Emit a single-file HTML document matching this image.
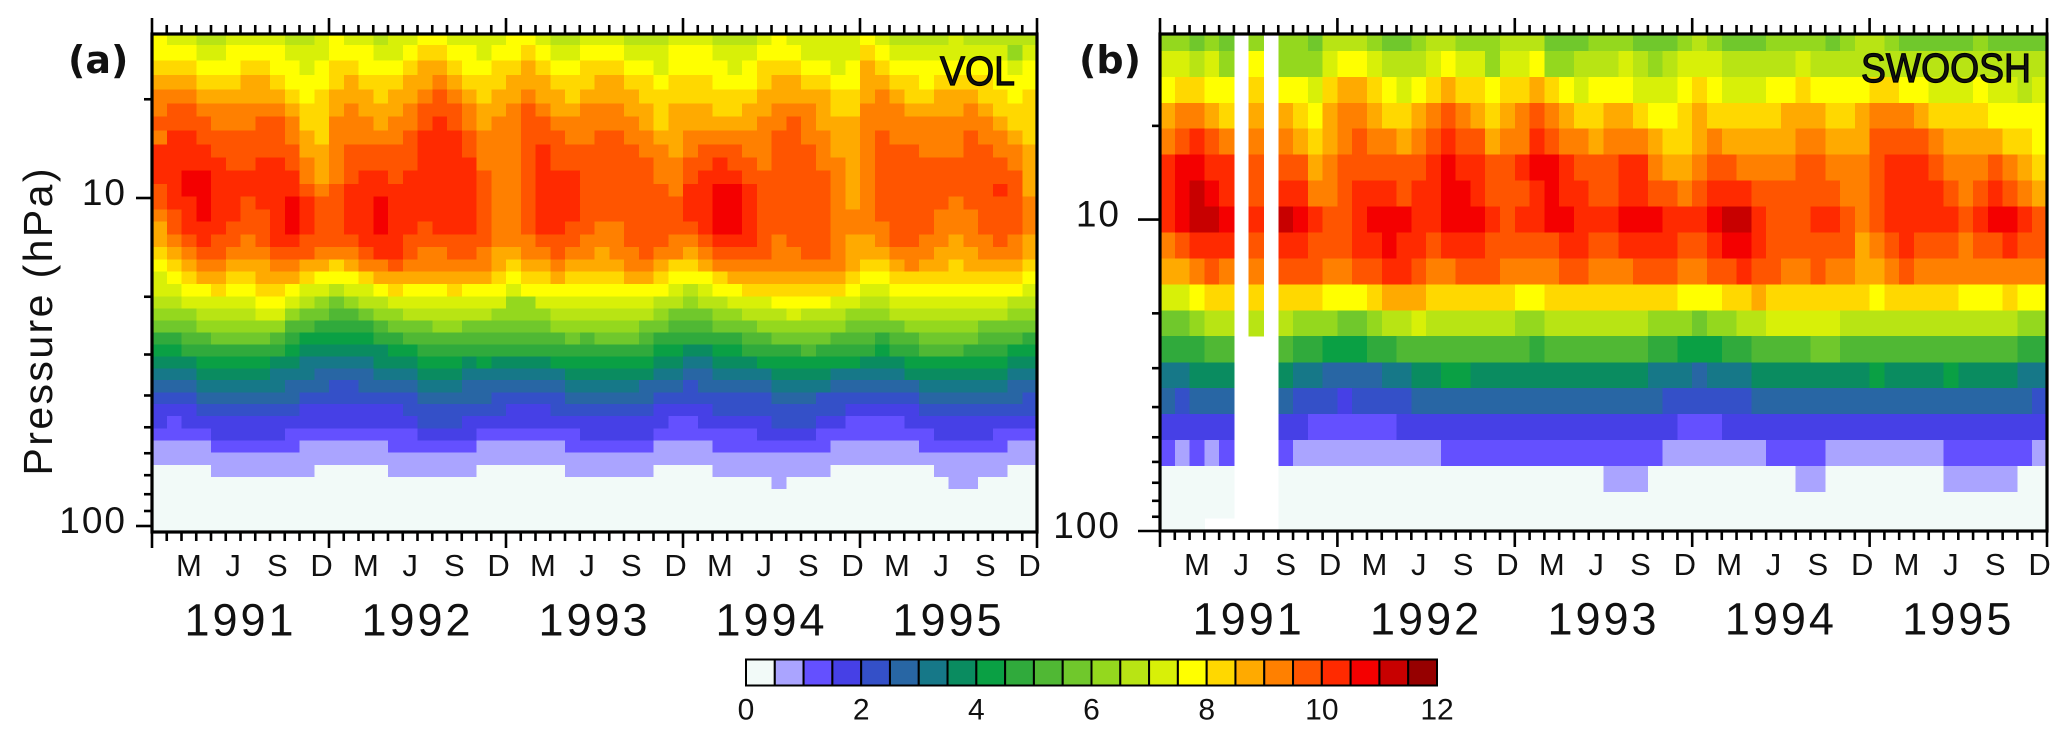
<!DOCTYPE html>
<html lang="en">
<head>
<meta charset="utf-8">
<title>Water vapour: VOL and SWOOSH</title>
<style>
html,body{margin:0;padding:0;background:#fff;}
svg{display:block;}
text{font-family:"Liberation Sans","DejaVu Sans",sans-serif;fill:#111;}
</style>
</head>
<body>
<svg id="chart" xmlns="http://www.w3.org/2000/svg" width="2067" height="738" viewBox="0 0 2067 738">
  <rect x="0" y="0" width="2067" height="738" fill="#fff"/>
  <g id="panelA"></g>
  <g id="panelB"></g>
  <g id="colorbar"></g>
  <text transform="translate(52,322) rotate(-90)" text-anchor="middle" font-size="41" textLength="307" lengthAdjust="spacing">Pressure (hPa)</text>
  <text x="68" y="73" font-size="38" font-weight="bold" style="font-family:'DejaVu Sans',sans-serif">(a)</text>
  <text x="1079" y="73" font-size="38" font-weight="bold" style="font-family:'DejaVu Sans',sans-serif">(b)</text>
  <text x="940" y="85" font-size="41" textLength="75" lengthAdjust="spacingAndGlyphs" stroke="#000" stroke-width="1.2">VOL</text>
  <text x="1861" y="82" font-size="41" textLength="170" lengthAdjust="spacingAndGlyphs" stroke="#000" stroke-width="1.2">SWOOSH</text>
</svg>
<script>
const yearLabels = ["1991","1992","1993","1994","1995"];
const monthLabels = ["M","J","S","D"];
const monthLabelIndex = [2,5,8,11];
const minorPressureTicks = [5,20,30,40,50,60,70,80,90];
const majorPressureTicks = [10,100];
const colorbarTickValues = [0,2,4,6,8,10,12];
const colorbarBinSize = 0.5;
const binColors = ["#f2faf8","#aaa4ff","#6450ff","#4640e6","#3450c8","#2866a4","#167888","#0a8c60","#0aa044","#30aa3c","#50b834","#70c82c","#94d81e","#b8e414","#d8f008","#ffff00","#ffd800","#ffaa00","#ff8000","#ff5500","#ff2a00","#f40000","#c80000","#960000"];

const volEdgesHpa = [3.162,3.416,3.814,4.217,4.663,5.143,5.651,6.234,6.858,7.536,8.257,9.064,9.91,10.83,11.81,12.90,14.11,15.38,16.78,18.29,19.94,21.69,23.67,25.75,27.93,30.46,33.05,35.88,39.12,42.46,46.19,50.36,54.81,59.77,65.16,70.88,77.14,83.92,91.26,99.3,104.3];

const volValues = [
[7.5,7,7,6.5,6.5,7,7,7,7,6.5,6.5,7, 7.5,7,7,6.5,7,7,7.5,7.5,7,7,7,7, 7.5,7.5,7,6.5,6.5,7,7,7,6.5,6.5,6.5,7, 7,7,6.5,6.5,6.5,7,7.5,7,7,7,7,7, 7.5,7,6.5,6.5,6.5,6.5,7,6.5,6.5,6.5,6.5,6.5],
[7.5,7.5,7.5,7,7,7.5,7.5,7.5,7.5,7,7,7, 7.5,7.5,7.5,7,7,7.5,8,8,7.5,7.5,7,7.5, 7.5,8,7.5,7,7,7.5,7.5,7.5,7,7,7,7.5, 7.5,7.5,7,7,7,7.5,7.5,7.5,7,7,7,7, 8,7.5,7,7,7,7,7,7,7,7,6,7],
[8,8,8,7.5,7.5,7.5,8,8,7.5,7.5,7,7.5, 8,8,7.5,7.5,7.5,8,8.5,8.5,8,7.5,7.5,8, 8,8.5,8,7.5,7.5,8,8,8,7.5,7.5,7,7.5, 7.5,7.5,7.5,7,7.5,8,8,8,7.5,7.5,7,7.5, 8.5,8,7.5,7.5,7.5,7.5,7.5,7.5,7.5,7.5,7,7.5],
[8.5,8.5,8.5,8,8,8,8.5,8.5,8,7.5,7.5,7.5, 8,8.5,8,8,8,8.5,8.5,9,8.5,8,8,8, 8.5,8.5,8.5,8,8,8,8.5,8.5,8,8,7.5,8, 8,8,7.5,7.5,7.5,8,8.5,8.5,8,8,7.5,7.5, 8.5,8.5,8,8,7.5,8,8,8,8,7.5,7.5,7.5],
[9,9,9,8.5,8.5,8.5,8.5,8.5,8.5,8,7.5,8, 8.5,8.5,8.5,8,8.5,8.5,9,9.5,9,8.5,8,8.5, 8.5,9,8.5,8.5,8,8.5,8.5,8.5,8.5,8,8,8, 8,8,8,8,8,8.5,8.5,8.5,8.5,8.5,8,8, 8.5,9,8.5,8,8,8.5,8.5,8.5,8,8,7.5,8],
[9,9.5,9.5,9,9,9,9,9,9,8.5,8,8, 8.5,9,8.5,8.5,8.5,9,9.5,9.5,9.5,9,8.5,8.5, 9,9.5,9,8.5,8.5,9,9,9,8.5,8.5,8,8.5, 8.5,8.5,8,8,8.5,8.5,9,9,9,8.5,8,8, 9,9,9,8.5,8.5,8.5,8.5,9,8.5,8,8,8],
[9.5,9.5,9.5,9.5,9,9,9,9.5,9.5,9,8,8, 9,9,9,8.5,9,9,9.5,10,9.5,9,8.5,9, 9,9.5,9.5,9,9,9,9,9,9,8.5,8,8.5, 8.5,8.5,8.5,8.5,8.5,9,9,9.5,9,8.5,8.5,8.5, 9,9,9,9,9,9,9,9,9,8.5,8,8],
[9,10,10,9.5,9.5,9.5,9.5,9.5,9.5,9,8.5,8, 9,9,9,9,9,9.5,10,10,10,9.5,9,9, 9,9.5,9.5,9.5,9,9,9.5,9.5,9,9,8.5,8.5, 9,9,9,9,9,9,9.5,9.5,9,9,8.5,8.5, 9,9.5,9,9,9,9,9,9.5,9,9,8.5,8],
[10,10,10,10,9.5,9.5,9.5,9.5,9.5,9.5,8.5,8.5, 9,9.5,9.5,9.5,9.5,9.5,10,10,10,9.5,9,9, 9,9.5,10,9.5,9.5,9.5,9.5,9.5,9.5,9,9,8.5, 9,9.5,9.5,9.5,9,9,9.5,9.5,9.5,9,8.5,8.5, 9,9.5,9.5,9.5,9,9,9,9.5,9.5,9,9,8.5],
[10,10,10,10,10,9.5,9.5,10,10,9.5,9,8.5, 9,9.5,9.5,9.5,9.5,9.5,10,10,10,10,9,9, 9,9.5,10,9.5,9.5,9.5,9.5,9.5,9.5,9.5,9,9, 9.5,9.5,10,9.5,9.5,9,9.5,9.5,9.5,9,9,8.5, 9,9.5,9.5,9.5,9.5,9.5,9.5,9.5,9.5,9.5,9,8.5],
[10,10,10.5,10.5,10,10,10,10,10,10,9,8.5, 9,9.5,10,10,9.5,10,10,10,10,10,9.5,9, 9,9.5,10,10,10,9.5,9.5,9.5,9.5,9.5,9,9, 9.5,10,10,10,9.5,9.5,9.5,9.5,9.5,9.5,9,8.5, 9,9.5,9.5,9.5,9.5,9.5,9.5,9.5,9.5,9.5,9.5,8.5],
[9.5,10,10.5,10.5,10,10,10,10,10,10,9.5,9, 9.5,10,10,10,10,10,10,10,10,10,9.5,9, 9,9.5,10,10,10,9.5,9.5,9.5,9.5,9.5,9.5,9, 10,10,10.5,10.5,10,9.5,9.5,9.5,9.5,9.5,9,8.5, 9,9.5,9.5,9.5,9.5,9.5,9.5,9.5,9.5,10,9.5,8.5],
[9.5,10,10,10.5,10,10,9.5,10,10,10.5,10,9.5, 9.5,10,10,10.5,10,10,10,10,10,10,9.5,9, 9,9.5,10,10,10,9.5,9.5,9.5,9.5,9.5,9.5,9.5, 10,10,10.5,10.5,10,9.5,9.5,9.5,9.5,9.5,9,8.5, 9,9.5,9.5,9.5,9.5,9.5,9,9.5,9.5,9.5,9.5,9],
[9,9.5,10,10.5,10,10,9.5,9.5,10,10.5,10,9.5, 9.5,10,10,10.5,10,10,10,10,10,10,9.5,9, 9,9.5,10,10,10,9.5,9.5,9.5,9.5,9.5,9.5,9.5, 10,10,10.5,10.5,10,9.5,9.5,9.5,9.5,9.5,9,9, 9,9.5,9.5,9.5,9.5,9,9,9,9.5,9.5,9.5,9],
[8.5,9.5,10,10,10,9.5,9.5,9.5,10,10.5,10,9.5, 9.5,10,10,10.5,10,10,9.5,10,10,10,9.5,9, 9,9.5,10,10,9.5,9.5,9,9,9.5,9.5,9.5,9.5, 9.5,10,10.5,10.5,10,9.5,9.5,9.5,9.5,9.5,9,9, 9,9,9.5,9.5,9.5,9,9,9,9.5,9.5,9.5,9],
[8.5,9,9.5,10,9.5,9.5,9,9.5,10,10,9.5,9.5, 9.5,9.5,10,10,10,9.5,9.5,9.5,9.5,9.5,9.5,9, 9,9,9.5,9.5,9.5,9,9,9,9.5,9.5,9.5,9, 9,9.5,10,10,10,9.5,9,9.5,9.5,9.5,9,8.5, 8.5,9,9.5,9.5,9,9,8.5,9,9,9.5,9,8.5],
[8,8.5,9,9.5,9.5,9,9,9,9.5,9.5,9.5,9, 9,9,9.5,10,10,9.5,9,9,9.5,9.5,9,8.5, 8.5,9,9,9.5,9,9,8.5,9,9,9.5,9,9, 8.5,9,9.5,9.5,9.5,9.5,9,9,9.5,9.5,9,8.5, 8.5,8.5,9,9,9,8.5,8.5,8.5,9,9,9,8.5],
[7.5,8,8.5,9,9,8.5,8.5,8.5,9,9,8.5,8.5, 8,8.5,9,9,9.5,9,9,9,9,9,9,8.5, 8,8.5,8.5,9,8.5,8.5,8.5,8.5,9,9,8.5,8, 8,8.5,9,9,9,9,9,9,9,9,9,8.5, 8,8,8.5,9,8.5,8.5,8,8.5,8.5,8.5,8.5,8],
[7,7.5,8,8.5,8.5,8,8,8.5,8.5,8.5,8,7.5, 7.5,7.5,8,8.5,8.5,8.5,8.5,8.5,8.5,8.5,8.5,8, 7.5,8,8,8.5,8,8,8,8,8.5,8.5,8,7.5, 7.5,7.5,8,8.5,8.5,8.5,8.5,8.5,8.5,8.5,8.5,8, 7.5,7.5,8,8,8,8,8,8,8,8,8,7.5],
[7,7,7.5,7.5,8,7.5,7.5,8,8,7.5,7,7, 6.5,7,7,7.5,8,7.5,7.5,7.5,8,7.5,7.5,7.5, 7,7.5,7.5,7.5,7.5,7.5,7.5,7.5,7.5,7.5,7.5,7, 6.5,7,7.5,7.5,8,8,8,8,8,8,8,7.5, 7,7,7.5,7.5,7.5,7.5,7.5,7.5,7.5,7.5,7.5,7],
[6.5,6.5,7,7,7,7,7,7.5,7.5,7,6.5,6, 5.5,6,6.5,6.5,7,7,7,7,7,7,7,7, 6,6,7,7,7,7,7,7,7,7,6.5,6.5, 6,6.5,6.5,7,7,7,7.5,7.5,7.5,7.5,7,7, 6.5,6.5,7,7,7,7,7,7,7,7,6.5,6.5],
[6,6,6,6.5,6.5,6.5,6.5,7,7,6,5.5,5.5, 5,5,5.5,6,6,6.5,6.5,6.5,6.5,6.5,6.5,6, 6,6,6,6.5,6.5,6.5,6.5,6.5,6.5,6.5,6,5.5, 5.5,5.5,6,6,6.5,6.5,6.5,7,6.5,6.5,6.5,6, 6,6,6.5,6.5,6.5,6.5,6.5,6.5,6.5,6.5,6,6],
[5.5,5.5,5.5,6,6,6,6,6,6,5,5,4.5, 4.5,4.5,4.5,5,5.5,5.5,5.5,6,6,5.5,5.5,5.5, 5.5,5.5,5.5,6,6,6,6,6,6,5.5,5.5,5, 5,5,5.5,5.5,5.5,6,6,6,6,6,6,5.5, 5.5,5.5,5.5,6,6,6,6,6,5.5,5.5,5.5,5.5],
[4.5,4.5,5,5,5.5,5.5,5.5,5.5,5,4.5,4,4, 4,4,4,4.5,4.5,5,5,5,5,5,5,5, 5,5,5,5,5.5,5,5.5,5.5,5.5,5,4.5,4.5, 4.5,4.5,4.5,4.5,5,5,5.5,5.5,5.5,5.5,5,5, 5,4.5,5,5,5.5,5.5,5.5,5.5,5,5,5,4.5],
[4,4,4.5,4.5,4.5,4.5,4.5,4.5,4.5,4,3.5,3.5, 3.5,3.5,3.5,3.5,4,4,4.5,4.5,4.5,4.5,4.5,4.5, 4.5,4.5,4.5,4.5,4.5,4.5,4.5,4.5,4.5,4.5,4,4, 3.5,3.5,4,4,4.5,4.5,4.5,4.5,5,4.5,4.5,4.5, 4.5,4,4.5,4.5,5,5,5,4.5,4.5,4.5,4,4],
[3.5,3.5,3.5,4,4,4,4,4,3.5,3.5,3,3, 3,3,3,3.5,3.5,3.5,4,4,4,3.5,4,3.5, 3.5,3.5,3.5,4,4,4,4,4,4,4,3.5,3.5, 3,3,3.5,3.5,3.5,4,4,4,4,4,4,4, 3.5,3.5,3.5,4,4,4,4,4,4,4,3.5,3.5],
[3,3,3,3.5,3.5,3.5,3.5,3.5,3,3,3,2.5, 2.5,2.5,2.5,3,3,3,3.5,3.5,3.5,3,3,3, 3,3,3,3,3.5,3.5,3.5,3.5,3.5,3.5,3,3, 2.5,2.5,3,3,3,3,3.5,3.5,3.5,3.5,3,3, 3,3,3,3.5,3.5,3.5,3.5,3.5,3.5,3.5,3,3],
[2.5,2.5,2.5,3,3,3,3,3,3,2.5,2.5,2.5, 2,2,2.5,2.5,2.5,2.5,3,3,3,2.5,2.5,2.5, 2.5,2.5,2.5,2.5,3,3,3,3,3,2.5,2.5,2.5, 2,2.5,2.5,2.5,2.5,2.5,3,3,3,3,2.5,2.5, 2.5,2.5,2.5,2.5,3,3,3,3,3,3,2.5,2.5],
[2,2,2,2.5,2.5,2.5,2.5,2.5,2.5,2.5,2,2, 2,2,2,2,2,2,2.5,2.5,2.5,2.5,2.5,2, 2,2,2,2,2.5,2.5,2.5,2.5,2.5,2.5,2,2, 2,2,2,2,2,2,2.5,2.5,2.5,2,2,2, 2,2,2,2,2.5,2.5,2.5,2.5,2.5,2.5,2.5,2],
[1.5,1.5,1.5,2,2,2,2,2,2,2,1.5,1.5, 1.5,1.5,1.5,1.5,1.5,2,2,2,2,2,2,2, 1.5,1.5,1.5,2,2,2,2,2,2,2,1.5,1.5, 1.5,1.5,2,2,2,2,2,2,2,2,2,1.5, 1.5,1.5,1.5,1.5,2,2,2,2,2,2,2,2],
[1.5,1,1.5,1.5,1.5,1.5,1.5,1.5,1.5,1.5,1.5,1.5, 1.5,1.5,1.5,1.5,1.5,1.5,2,2,2,1.5,1.5,1.5, 1.5,1.5,1.5,1.5,1.5,1.5,1.5,1.5,1.5,1.5,1.5,1, 1,1.5,1.5,1.5,1.5,1.5,2,2,2,1.5,1.5,1, 1,1,1,1.5,1.5,1.5,1.5,1.5,1.5,1.5,1.5,1.5],
[1,1,1,1,1.5,1.5,1.5,1.5,1.5,1,1,1, 1,1,1,1,1,1,1.5,1.5,1.5,1.5,1,1, 1,1,1,1,1,1.5,1.5,1.5,1.5,1.5,1,1, 1,1,1,1,1,1.5,1.5,1.5,1.5,1,1,1, 1,1,1,1,1,1.5,1.5,1.5,1.5,1,1,1],
[.5,.5,.5,.5,1,1,1,1,1,1,.5,.5, .5,.5,.5,.5,1,1,1,1,1,1,.5,.5, .5,.5,.5,.5,1,1,1,1,1,1,.5,.5, .5,.5,1,1,1,1,1,1,1,1,.5,.5, .5,.5,.5,.5,1,1,1,1,1,1,.5,.5],
[.5,.5,.5,.5,.5,.5,.5,.5,.5,.5,.5,.5, .5,.5,.5,.5,.5,.5,.5,.5,.5,.5,.5,.5, .5,.5,.5,.5,.5,.5,.5,.5,.5,.5,.5,.5, .5,.5,.5,.5,.5,.5,.5,.5,.5,.5,.5,.5, .5,.5,.5,.5,.5,.5,.5,.5,.5,.5,.5,.5],
[0,0,0,0,.5,.5,.5,.5,.5,.5,.5,0, 0,0,0,0,.5,.5,.5,.5,.5,.5,0,0, 0,0,0,0,.5,.5,.5,.5,.5,.5,0,0, 0,0,.5,.5,.5,.5,.5,.5,.5,.5,0,0, 0,0,0,0,0,.5,.5,.5,.5,.5,0,0],
[0,0,0,0,0,0,0,0,0,0,0,0, 0,0,0,0,0,0,0,0,0,0,0,0, 0,0,0,0,0,0,0,0,0,0,0,0, 0,0,0,0,0,0,.5,0,0,0,0,0, 0,0,0,0,0,0,.5,.5,0,0,0,0],
[0,0,0,0,0,0,0,0,0,0,0,0, 0,0,0,0,0,0,0,0,0,0,0,0, 0,0,0,0,0,0,0,0,0,0,0,0, 0,0,0,0,0,0,0,0,0,0,0,0, 0,0,0,0,0,0,0,0,0,0,0,0],
[0,0,0,0,0,0,0,0,0,0,0,0, 0,0,0,0,0,0,0,0,0,0,0,0, 0,0,0,0,0,0,0,0,0,0,0,0, 0,0,0,0,0,0,0,0,0,0,0,0, 0,0,0,0,0,0,0,0,0,0,0,0],
[0,0,0,0,0,0,0,0,0,0,0,0, 0,0,0,0,0,0,0,0,0,0,0,0, 0,0,0,0,0,0,0,0,0,0,0,0, 0,0,0,0,0,0,0,0,0,0,0,0, 0,0,0,0,0,0,0,0,0,0,0,0],
[0,0,0,0,0,0,0,0,0,0,0,0, 0,0,0,0,0,0,0,0,0,0,0,0, 0,0,0,0,0,0,0,0,0,0,0,0, 0,0,0,0,0,0,0,0,0,0,0,0, 0,0,0,0,0,0,0,0,0,0,0,0]
];

const swooshLevelsHpa = [2.61,3.16,3.83,4.64,5.62,6.81,8.25,10,12.1,14.7,17.8,21.5,26.1,31.6,38.3,46.4,56.2,68.1,82.5,100];

const swooshValues = [
[6,6,5.5,6,5.5,null,6,null,6,6,5.5,6.5, 6.5,6.5,6,5.5,5.5,6,6.5,6.5,6,6,6,6.5, 6.5,6.5,5.5,5.5,5.5,6,6,6,5.5,5.5,5.5,6, 6.5,6,5.5,5.5,5.5,6,6,6,6,5.5,6,6.5, 6.5,6,5.5,5.5,5.5,5.5,5.5,6,5.5,5.5,5.5,5.5],
[7,7,6.5,7,6,null,7.5,null,6,6,6,7, 7.5,7.5,7,6.5,6.5,6.5,7,7.5,7,7,6,7, 7,7.5,6,6,6.5,6.5,6.5,7,6.5,6,6.5,7, 7,7,6.5,6.5,6.5,6.5,6.5,7,6.5,6.5,6.5,6.5, 6.5,6.5,6.5,6.5,6.5,6.5,6.5,6.5,6.5,6.5,6.5,6.5],
[7.5,8,8,7.5,7.5,null,8,null,7.5,7.5,7,8, 8.5,8.5,8,7.5,7,7.5,8,8.5,8,8,7.5,8, 8,8.5,8,7.5,7,7.5,7.5,7.5,7,7,7,7.5, 8,7.5,7,7,7,7.5,7.5,8,7.5,7.5,7.5,7.5, 8,8,7.5,7.5,7,7,7,7.5,7,7,6.5,7],
[8.5,9,9,8.5,8,null,8.5,null,8.5,8,7.5,8.5, 9,9,8.5,8,8,8.5,9,9.5,9,8.5,8,8.5, 9,9.5,9,8.5,8,8,8.5,8.5,8,7.5,7.5,8, 8.5,8,8,8,8,8,8.5,8.5,8.5,8,8,8.5, 9,9,9,8.5,8,8,8,8,7.5,7.5,7.5,7.5],
[9,9.5,10,9.5,9,null,9,null,9,8.5,8,8.5, 9,9.5,9,9,8.5,9,9.5,10,9.5,9.5,8.5,9, 9,10,9.5,9,9,8.5,9,9,9,8.5,8,8, 8.5,9,8.5,8.5,8.5,8.5,8.5,9,9,8.5,8.5,8.5, 9.5,9.5,9.5,9.5,9,8.5,8.5,8.5,8.5,8,8,7.5],
[10,10.5,10.5,10,10,null,9.5,null,9.5,9.5,8.5,9, 9.5,9.5,9.5,9.5,9.5,9.5,10,10.5,10,10,9.5,9.5, 10,10.5,10.5,10,9.5,9.5,9.5,10,10,9,8.5,8.5, 9,9.5,9.5,9,9,9,9,9.5,9.5,9,9,9, 9.5,10,10,10,9.5,9,9,9,9.5,9,8.5,8],
[10,10.5,11,10.5,10,null,9.5,null,10,10,9,9, 9.5,10,10,10,9.5,10,10,10.5,10.5,10,9.5,9.5, 9.5,10,10.5,10,10,9.5,9.5,10,10,9.5,9.5,9, 9.5,10,10,10,9.5,9.5,9.5,9.5,9.5,9.5,9,9, 9.5,10,10,10,10,9.5,9,9.5,10,9.5,9,8.5],
[10,10.5,11,11,10.5,null,10,null,11,10.5,10,9.5, 9.5,10,10.5,10.5,10.5,10,10,10.5,10.5,10.5,10,9.5, 10,10,10.5,10.5,10,10,10,10.5,10.5,10.5,10,10, 10,10.5,11,11,10,9.5,9.5,9.5,10,10,9.5,9, 9.5,10,10,10,10,10,9.5,10,10.5,10.5,10,9.5],
[9,9.5,10,10,10,null,9.5,null,10,10,9.5,9.5, 9.5,10,10,10.5,10,10,9.5,10,10,10,9.5,9.5, 9.5,9.5,9.5,10,10,9.5,9.5,10,10,10,10,9.5, 9.5,10,10.5,10.5,10,9.5,9.5,9.5,9.5,9.5,9.5,8.5, 9,9.5,10,9.5,9.5,9.5,9,9.5,9.5,10,9.5,9.5],
[8.5,8.5,9,9.5,9,null,9,null,9.5,9.5,9.5,9, 9,9.5,9.5,10,10,9.5,9,9,9.5,9.5,9.5,9, 9,9,9,9.5,9.5,9,9,9,9.5,9.5,9.5,9, 9,9.5,9.5,10,9.5,9.5,9,9,9.5,9,9,8.5, 8.5,9,9.5,9,9,9,9,9,9,9,9,9],
[7,7,7.5,8,8,null,8,null,8,8,8,7.5, 7.5,7.5,8,8.5,8.5,8.5,8,8,8,8,8,8, 7.5,7.5,8,8,8,8,8,8,8,8,8,7.5, 7.5,7.5,8,8,8.5,8,8,8,8,8,8,8, 7.5,8,8,8,8,8,7.5,7.5,7.5,8,7.5,7.5],
[5.5,5.5,6,6.5,6.5,null,6.5,null,6.5,6,6,6, 5.5,5.5,6,6.5,6.5,7,6.5,6.5,6.5,6.5,6.5,6.5, 6,6,6.5,6.5,6.5,6.5,6.5,6.5,6.5,6,6,6, 5.5,6,6,6.5,6.5,7,7,7,7,7,6.5,6.5, 6.5,6.5,6.5,6.5,6.5,6.5,6.5,6.5,6.5,6.5,6,6],
[4.5,4.5,4.5,5,5,null,null,null,5,4.5,4.5,4, 4,4,4.5,4.5,5,5,5,5,5,5,5,5, 5,4.5,5,5,5,5,5,5,5,4.5,4.5,4, 4,4,4.5,4.5,5,5,5,5,5.5,5.5,5,5, 5,5,5,5,5,5,5,5,5,5,4.5,4.5],
[3,3,3.5,3.5,3.5,null,null,null,3.5,3,3,2.5, 2.5,2.5,2.5,3,3,3.5,3.5,4,4,3.5,3.5,3.5, 3.5,3.5,3.5,3.5,3.5,3.5,3.5,3.5,3.5,3,3,3, 2.5,3,3,3,3.5,3.5,3.5,3.5,3.5,3.5,3.5,3.5, 4,3.5,3.5,3.5,3.5,4,3.5,3.5,3.5,3.5,3,3],
[2.5,2,2.5,2.5,2.5,null,null,null,2.5,2,2,2, 1.5,2,2,2,2,2.5,2.5,2.5,2.5,2.5,2.5,2.5, 2.5,2.5,2.5,2.5,2.5,2.5,2.5,2.5,2.5,2.5,2,2, 2,2,2,2,2.5,2.5,2.5,2.5,2.5,2.5,2.5,2.5, 2.5,2.5,2.5,2.5,2.5,2.5,2.5,2.5,2.5,2.5,2.5,2],
[1.5,1.5,1.5,1.5,1.5,null,null,null,1.5,1.5,1,1, 1,1,1,1,1.5,1.5,1.5,1.5,1.5,1.5,1.5,1.5, 1.5,1.5,1.5,1.5,1.5,1.5,1.5,1.5,1.5,1.5,1.5,1, 1,1,1.5,1.5,1.5,1.5,1.5,1.5,1.5,1.5,1.5,1.5, 1.5,1.5,1.5,1.5,1.5,1.5,1.5,1.5,1.5,1.5,1.5,1.5],
[1,.5,1,.5,1,null,null,null,1,.5,.5,.5, .5,.5,.5,.5,.5,.5,.5,1,1,1,1,1, 1,1,1,1,1,1,1,1,1,1,.5,.5, .5,.5,.5,.5,.5,1,1,1,1,.5,.5,.5, .5,.5,.5,.5,.5,1,1,1,1,1,1,.5],
[0,0,0,0,0,null,null,null,0,0,0,0, 0,0,0,0,0,0,0,0,0,0,0,0, 0,0,0,0,0,0,.5,.5,.5,0,0,0, 0,0,0,0,0,0,0,.5,.5,0,0,0, 0,0,0,0,0,.5,.5,.5,.5,.5,0,0],
[0,0,0,0,0,null,null,null,0,0,0,0, 0,0,0,0,0,0,0,0,0,0,0,0, 0,0,0,0,0,0,0,0,0,0,0,0, 0,0,0,0,0,0,0,0,0,0,0,0, 0,0,0,0,0,0,0,0,0,0,0,0],
[0,0,0,null,null,null,null,null,0,0,0,0, 0,0,0,0,0,0,0,0,0,0,0,0, 0,0,0,0,0,0,0,0,0,0,0,0, 0,0,0,0,0,0,0,0,0,0,0,0, 0,0,0,0,0,0,0,0,0,0,0,0]
];

const SVGNS = "http://www.w3.org/2000/svg";
function make(parent, tag, attrs, text) {
  const el = document.createElementNS(SVGNS, tag);
  for (const key in attrs) el.setAttribute(key, attrs[key]);
  if (text !== undefined) el.textContent = text;
  parent.appendChild(el);
  return el;
}
function binColor(v) {
  const i = Math.max(0, Math.min(binColors.length - 1, Math.floor(v / colorbarBinSize)));
  return binColors[i];
}
function makeLogScale(pTop, pBottom, yTop, yBottom) {
  const a = Math.log10(pTop), b = Math.log10(pBottom);
  return function (p) { return yTop + (Math.log10(p) - a) / (b - a) * (yBottom - yTop); };
}

function drawPanel(group, cfg) {
  const nMonths = cfg.values[0].length;
  const monthWidth = (cfg.x1 - cfg.x0) / nMonths;
  const xScale = function (m) { return cfg.x0 + m * monthWidth; };
  const yScale = makeLogScale(cfg.pTop, cfg.pBottom, cfg.y0, cfg.y1);

  const cells = make(group, "g", {"shape-rendering": "crispEdges"});
  
  
  cfg.values.forEach(function (row, r) {
    const yA = yScale(cfg.edges[r]), yB = yScale(cfg.edges[r + 1]);
    row.forEach(function (v, m) {
      if (v === null) return;
      const rect = make(cells, "rect", {x: xScale(m), y: yA, width: monthWidth + 0.4, height: yB - yA + 0.4, fill: binColor(v)});
      
      
    });
  });

  const axes = make(group, "g", {stroke: "#000", "stroke-width": 2.6, fill: "none"});
  
  
  const frame = make(axes, "rect", {x: cfg.x0, y: cfg.y0, width: cfg.x1 - cfg.x0, height: cfg.y1 - cfg.y0, "stroke-width": 3.2});
  
  

  for (let m = 0; m <= nMonths; m++) {
    const major = m % 12 === 0;
    const x = xScale(m);
    const top = make(axes, "line", {x1: x, x2: x, y1: cfg.y0, y2: cfg.y0 - (major ? 16 : 9)});
    
    
    const bottom = make(axes, "line", {x1: x, x2: x, y1: cfg.y1, y2: cfg.y1 + (major ? 16 : 9)});
    
    
  }
  minorPressureTicks.forEach(function (p) {
    const y = yScale(p);
    const t = make(axes, "line", {x1: cfg.x0 - 8, x2: cfg.x0, y1: y, y2: y});
    
    
  });
  majorPressureTicks.forEach(function (p) {
    const y = yScale(p);
    const t = make(axes, "line", {x1: cfg.x0 - cfg.majorTick, x2: cfg.x0, y1: y, y2: y});
    
    
    const label = make(group, "text", {x: cfg.labelRight, y: y + 7, "text-anchor": "end", "font-size": 37, "letter-spacing": 2}, String(p));
    
    
  });

  for (let y = 0; y < yearLabels.length; y++) {
    monthLabelIndex.forEach(function (mi, j) {
      const label = make(group, "text", {x: xScale(y * 12 + mi + 0.5), y: cfg.y1 + 44, "text-anchor": "middle", "font-size": 31}, monthLabels[j]);
      
      
    });
    const yl = make(group, "text", {x: xScale(y * 12 + 6), y: cfg.y1 + 103.5, "text-anchor": "middle", "font-size": 45, "letter-spacing": 3}, yearLabels[y]);
    
    
  }
}

const swooshEdges = [2.535];
for (let i = 0; i < swooshLevelsHpa.length - 1; i++) {
  swooshEdges.push(Math.sqrt(swooshLevelsHpa[i] * swooshLevelsHpa[i + 1]));
}
swooshEdges.push(100);

drawPanel(document.getElementById("panelA"), {
  values: volValues, edges: volEdgesHpa, pTop: 3.162, pBottom: 104.3,
  x0: 152, x1: 1037, y0: 34, y1: 532, majorTick: 16, labelRight: 127
});
drawPanel(document.getElementById("panelB"), {
  values: swooshValues, edges: swooshEdges, pTop: 2.535, pBottom: 100,
  x0: 1160, x1: 2047, y0: 34, y1: 531, majorTick: 22, labelRight: 1121
});

(function drawColorbar() {
  const g = document.getElementById("colorbar");
  const x0 = 746, x1 = 1437, y0 = 659.5, y1 = 685.5;
  const maxValue = binColors.length * colorbarBinSize;
  const xOf = function (v) { return x0 + v / maxValue * (x1 - x0); };
  binColors.forEach(function (c, i) {
    const rect = make(g, "rect", {x: xOf(i * colorbarBinSize), y: y0, width: xOf((i + 1) * colorbarBinSize) - xOf(i * colorbarBinSize), height: y1 - y0, fill: c, stroke: "#000", "stroke-width": 2});
    
    
  });
  colorbarTickValues.forEach(function (v) {
    const label = make(g, "text", {x: xOf(v), y: y1 + 34, "text-anchor": "middle", "font-size": 30}, String(v));
    
    
  });
})();
</script>
</body>
</html>
